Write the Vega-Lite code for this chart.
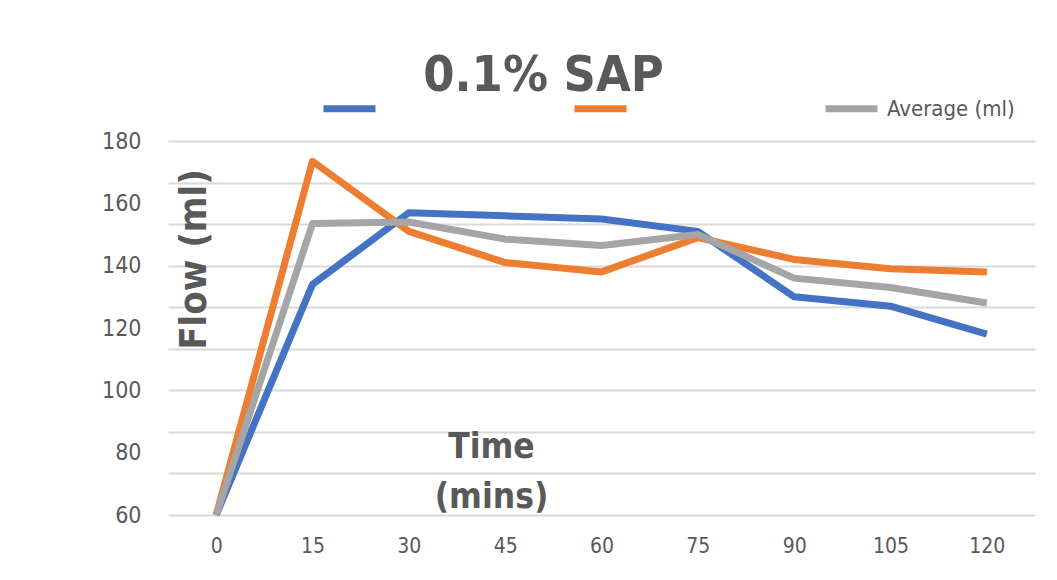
{
  "$schema": "https://vega.github.io/schema/vega-lite/v6.json",
  "width": 867,
  "height": 374,
  "autosize": {"type": "none"},
  "padding": {"left": 168, "top": 141, "right": 22, "bottom": 65},
  "background": "white",
  "title": {
    "text": "0.1% SAP",
    "font": "DejaVu Sans Condensed, sans-serif",
    "fontSize": 50,
    "fontWeight": "bold",
    "color": "#595959",
    "anchor": "middle",
    "frame": "group",
    "dx": -58,
    "baseline": "alphabetic",
    "offset": -62
  },
  "data": {
    "values": [
      {"time": 0, "series": "Series 1", "flow": 60},
      {"time": 15, "series": "Series 1", "flow": 134},
      {"time": 30, "series": "Series 1", "flow": 157},
      {"time": 45, "series": "Series 1", "flow": 156},
      {"time": 60, "series": "Series 1", "flow": 155},
      {"time": 75, "series": "Series 1", "flow": 151},
      {"time": 90, "series": "Series 1", "flow": 130},
      {"time": 105, "series": "Series 1", "flow": 127},
      {"time": 120, "series": "Series 1", "flow": 118},
      {"time": 0, "series": "Series 2", "flow": 60},
      {"time": 15, "series": "Series 2", "flow": 173.5},
      {"time": 30, "series": "Series 2", "flow": 151},
      {"time": 45, "series": "Series 2", "flow": 141},
      {"time": 60, "series": "Series 2", "flow": 138},
      {"time": 75, "series": "Series 2", "flow": 149},
      {"time": 90, "series": "Series 2", "flow": 142},
      {"time": 105, "series": "Series 2", "flow": 139},
      {"time": 120, "series": "Series 2", "flow": 138},
      {"time": 0, "series": "Average (ml)", "flow": 60},
      {"time": 15, "series": "Average (ml)", "flow": 153.5},
      {"time": 30, "series": "Average (ml)", "flow": 154},
      {"time": 45, "series": "Average (ml)", "flow": 148.5},
      {"time": 60, "series": "Average (ml)", "flow": 146.5},
      {"time": 75, "series": "Average (ml)", "flow": 150},
      {"time": 90, "series": "Average (ml)", "flow": 136},
      {"time": 105, "series": "Average (ml)", "flow": 133},
      {"time": 120, "series": "Average (ml)", "flow": 128}
    ]
  },
  "mark": {"type": "line", "strokeWidth": 7, "strokeJoin": "round"},
  "encoding": {
    "x": {
      "field": "time",
      "type": "ordinal",
      "sort": "ascending",
      "scale": {"type": "point", "padding": 0.5},
      "axis": {
        "labelAngle": 0,
        "labelFont": "DejaVu Sans Condensed, sans-serif",
        "labelFontSize": 21,
        "labelColor": "#595959",
        "labelPadding": 20,
        "ticks": false,
        "domain": false,
        "grid": false,
        "title": ["Time", "(mins)"],
        "titleFont": "DejaVu Sans Condensed, sans-serif",
        "titleFontSize": 35,
        "titleFontWeight": "bold",
        "titleColor": "#595959",
        "titleX": 323,
        "titleY": -58,
        "titleAlign": "center",
        "titleBaseline": "alphabetic",
        "titleLineHeight": 50
      }
    },
    "y": {
      "field": "flow",
      "type": "quantitative",
      "scale": {"domain": [60, 180], "nice": false, "zero": false},
      "axis": {
        "values": [60, 73.3333333, 80, 86.6666667, 100, 113.3333333, 120, 126.6666667, 140, 153.3333333, 160, 166.6666667, 180],
        "labelExpr": "abs(datum.value % 20) < 0.01 ? datum.label : ''",
        "labelFont": "DejaVu Sans Condensed, sans-serif",
        "labelFontSize": 23,
        "labelColor": "#595959",
        "labelPadding": 27,
        "ticks": false,
        "domain": false,
        "grid": true,
        "gridColor": "#D9D9D9",
        "gridWidth": 2,
        "gridOpacity": {
          "condition": {"test": "abs((datum.value-60)*0.075 - round((datum.value-60)*0.075)) < 0.01", "value": 1},
          "value": 0
        },
        "title": "Flow (ml)",
        "titleFont": "DejaVu Sans Condensed, sans-serif",
        "titleFontSize": 38,
        "titleFontWeight": "bold",
        "titleColor": "#595959",
        "titleX": 37,
        "titleY": 118,
        "titleAngle": 270,
        "titleAlign": "center",
        "titleBaseline": "alphabetic"
      }
    },
    "color": {
      "field": "series",
      "type": "nominal",
      "scale": {
        "domain": ["Series 1", "Series 2", "Average (ml)"],
        "range": ["#4472C4", "#ED7D31", "#A5A5A5"]
      },
      "legend": {
        "orient": "none",
        "legendX": 152,
        "legendY": -62,
        "direction": "horizontal",
        "columns": 3,
        "gridAlign": "all",
        "columnPadding": 47,
        "symbolType": "stroke",
        "symbolSize": 2704,
        "symbolStrokeWidth": 7,
        "labelFont": "DejaVu Sans Condensed, sans-serif",
        "labelFontSize": 22,
        "labelColor": "#595959",
        "labelOffset": 6,
        "labelExpr": "datum.label == 'Average (ml)' ? datum.label : ''",
        "title": null
      }
    },
    "order": {"field": "series"}
  },
  "config": {"view": {"stroke": null}}
}
